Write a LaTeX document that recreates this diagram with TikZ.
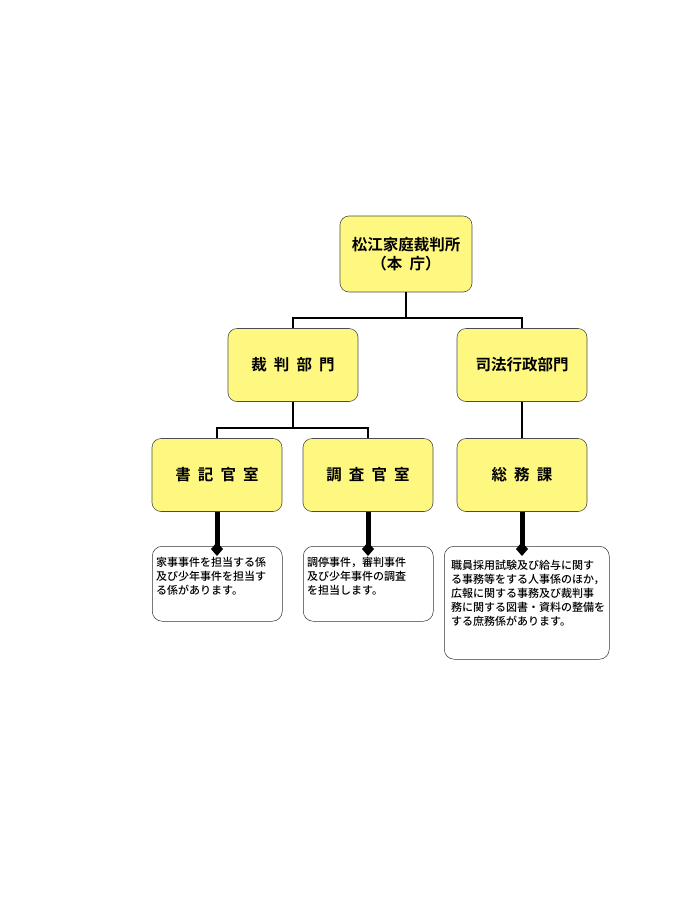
\documentclass[tikz,border=0pt]{standalone}
\usepackage{fontspec}
\setmainfont{Noto Sans CJK JP}
\newfontfamily\jpb{Noto Sans CJK JP Bold}
\newfontfamily\jpm{Noto Sans CJK JP Medium}
\begin{document}
\begin{tikzpicture}[x=1pt,y=-1pt,
  org/.style={draw=black!70,fill=yellow!50,rounded corners=9pt,minimum width=130pt,minimum height=73pt,font=\jpb\fontsize{15.5}{19}\selectfont,align=center,line width=0.6pt},
  descbox/.style={draw=black!80,fill=white,rounded corners=10pt,line width=0.5pt,anchor=north west,inner sep=0pt},
  desctext/.style={align=left,font=\jpm\fontsize{11}{14}\selectfont,anchor=north west,inner sep=0pt},
  conn/.style={line width=1.5pt},
  thick line/.style={line width=5pt}]
\useasboundingbox (0,0) rectangle (700,900);
\node[org,minimum width=132pt,minimum height=76pt] (top) at (406,254) {松江家庭裁判所\\（本\ \ 庁）};
\node[org] (saiban) at (293,365) {裁\ \ 判\ \ 部\ \ 門};
\node[org] (shiho) at (522,365) {司法行政部門};
\node[org] (shoki) at (217,475) {書\ \ 記\ \ 官\ \ 室};
\node[org] (chosa) at (368,475) {調\ \ 査\ \ 官\ \ 室};
\node[org] (somu) at (522,475) {総\ \ 務\ \ 課};
\node[descbox,minimum width=130pt,minimum height=75pt] (d1) at (152,546) {};
\node[descbox,minimum width=130pt,minimum height=75pt] (d2) at (303,546) {};
\node[descbox,minimum width=165pt,minimum height=113pt] (d3) at (444,546) {};
\node[desctext] (t1) at ([xshift=4pt,yshift=-11pt]d1.north west) {家事事件を担当する係\\及び少年事件を担当す\\る係があります。};
\node[desctext] (t2) at ([xshift=4pt,yshift=-11pt]d2.north west) {調停事件，審判事件\\及び少年事件の調査\\を担当します。};
\node[desctext] (t3) at ([xshift=7pt,yshift=-14pt]d3.north west) {職員採用試験及び給与に関す\\る事務等をする人事係のほか，\\広報に関する事務及び裁判事\\務に関する図書・資料の整備を\\する庶務係があります。};
\coordinate (j1) at (406,318);
\draw[conn] (top.south) -- (j1) -| (saiban.north);
\draw[conn] (j1) -| (shiho.north);
\coordinate (j2) at (293,428);
\draw[conn] (saiban.south) -- (j2) -| (shoki.north);
\draw[conn] (j2) -| (chosa.north);
\draw[conn] (shiho.south) -- (somu.north);
\foreach \b/\d in {shoki/d1,chosa/d2,somu/d3}{
  \coordinate (k\b) at (\b.south |- \d.north);
  \draw[thick line] (\b.south) -- ([yshift=-4pt]k\b);
  \fill ([yshift=-10pt]k\b) -- ([xshift=6pt,yshift=-3pt]k\b) -- ([yshift=4pt]k\b) -- ([xshift=-6pt,yshift=-3pt]k\b) -- cycle;
}
\end{tikzpicture}
\end{document}
